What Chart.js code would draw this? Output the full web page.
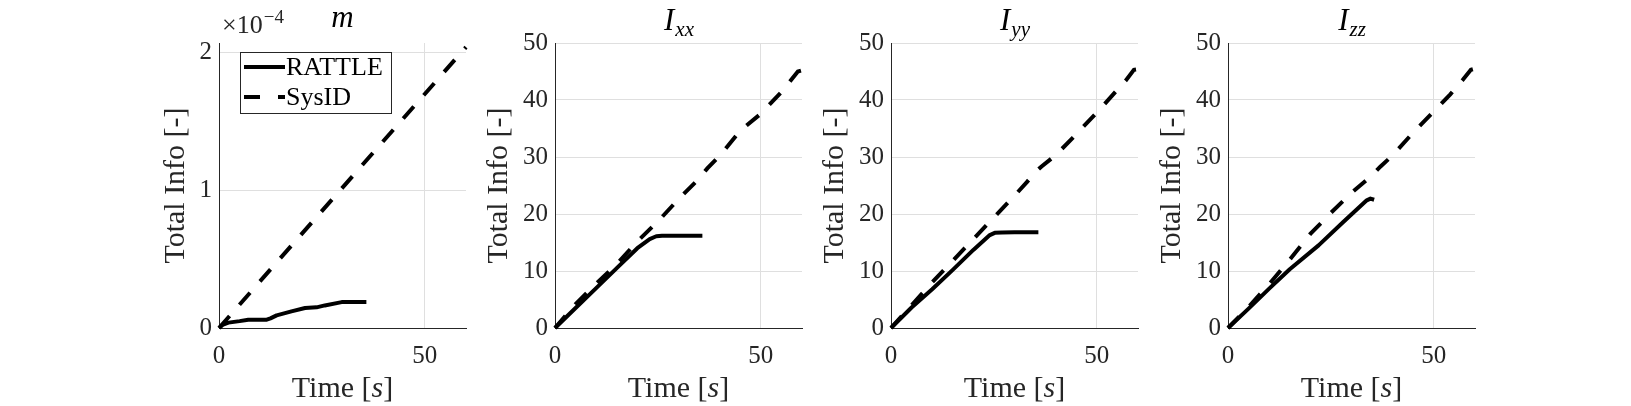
<!DOCTYPE html>
<html>
<head>
<meta charset="utf-8">
<script src="https://cdn.jsdelivr.net/npm/chart.js@4.4.1/dist/chart.umd.min.js"></script>
<style>
  html, body { margin: 0; padding: 0; background: #fff; }
  #wrap { position: relative; width: 1631px; height: 406px; overflow: hidden; }
  canvas { position: absolute; top: 0; }
</style>
</head>
<body>
<div id="wrap">
  <canvas id="c0" width="355" height="406"></canvas>
  <canvas id="c1" width="355" height="406"></canvas>
  <canvas id="c2" width="355" height="406"></canvas>
  <canvas id="c3" width="355" height="406"></canvas>
</div>
<script>
// ---- data ----
// mass m (values in units of 1e-4)
const rattleTimeM = [0, 1, 2.3, 5, 7.1, 11.6, 12.5, 14, 17.6, 20.9, 23.7, 25.7, 29.8, 35.8];
const rattleM     = [0, 0.025, 0.039, 0.05, 0.06, 0.06, 0.07, 0.092, 0.121, 0.145, 0.15, 0.164, 0.188, 0.188];
const sysidTimeM  = [0, 30, 60];
const sysidM      = [0, 1.02, 2.04];

// Ixx
const rattleTimeIxx = [0, 5, 10, 15, 20, 23, 24.6, 26, 30, 35.8];
const rattleIxx     = [0, 3.5, 7, 10.5, 14, 15.6, 16.1, 16.2, 16.2, 16.2];
const sysidTimeIxx  = [0, 5, 10, 15, 20, 25, 30, 35, 37, 40, 45, 50, 55, 59, 60];
const sysidIxx      = [0, 4.2, 7.8, 11.2, 15.2, 18.7, 22.6, 26.2, 28, 30.2, 34.6, 37.6, 41.4, 45, 45.2];

// Iyy
const rattleTimeIyy = [0, 5, 10, 15, 20, 24, 25.2, 27, 30, 35.8];
const rattleIyy     = [0, 3.6, 6.8, 10.2, 13.7, 16.3, 16.7, 16.75, 16.8, 16.8];
const sysidTimeIyy  = [0, 5, 10, 15, 20, 25, 30, 33, 35, 36.5, 40, 45, 50, 53, 57, 59, 60];
const sysidIyy      = [0, 4, 8, 11.8, 15.6, 19.4, 23.2, 25.6, 27.3, 28.3, 30.3, 34, 37.8, 40.2, 43.4, 45.3, 45.4];

// Izz
const rattleTimeIzz = [0, 5, 10, 15, 22, 28, 33.7, 34.6, 35.5];
const rattleIzz     = [0, 3.4, 6.9, 10.3, 14.5, 18.6, 22.4, 22.7, 22.5];
const sysidTimeIzz  = [0, 5, 10, 15, 20, 25, 30, 35, 37, 40, 45, 50, 54, 57, 59, 60];
const sysidIzz      = [0, 3.7, 7.7, 12, 16.5, 20.2, 23.7, 26.8, 28.3, 30.3, 34.3, 38, 41, 43.5, 45.3, 45.5];

const seriesLabels = ['RATTLE', 'SysID'];
const panelTitles = [['m', ''], ['I', 'xx'], ['I', 'yy'], ['I', 'zz']];
const xTicksStep = 50;

// pick a serif font that is really installed
function pickSerif() {
    const c = document.createElement('canvas').getContext('2d');
    const probe = 'Total Info mmmWWWiii 0123';
    c.font = '30px monospace';
    const ref = c.measureText(probe).width;
    const cands = ['Liberation Serif', 'DejaVu Serif', 'Noto Serif', 'Times New Roman', 'FreeSerif'];
    for (const f of cands) {
        c.font = '30px "' + f + '", monospace';
        if (Math.abs(c.measureText(probe).width - ref) > 0.5) return '"' + f + '", serif';
    }
    return 'serif';
}

// ---- layout ----
const FONT = pickSerif();
const INK = '#262626';
const GRID = '#dfdfdf';
const panelLeft = [219, 555, 891, 1228];
const Y_W = 100, X_H = 78;
const LW = 4;

function pts(t, v) {
    return t.map((x, i) => ({ x: x, y: v[i] }));
}

const panels = [
    { yMax: 2.07, yStep: 1, yTitlePad: 39, rattle: pts(rattleTimeM, rattleM), sysid: pts(sysidTimeM, sysidM), base: 27, first: true },
    { yMax: 50, yStep: 10, yTitlePad: 26, rattle: pts(rattleTimeIxx, rattleIxx), sysid: pts(sysidTimeIxx, sysidIxx), base: 30 },
    { yMax: 50, yStep: 10, yTitlePad: 26, rattle: pts(rattleTimeIyy, rattleIyy), sysid: pts(sysidTimeIyy, sysidIyy), base: 30 },
    { yMax: 50, yStep: 10, yTitlePad: 26, rattle: pts(rattleTimeIzz, rattleIzz), sysid: pts(sysidTimeIzz, sysidIzz), base: 30 }
];

// titles, x label with italic s, exponent and legend
function decorPlugin(p, idx) {
    return {
        id: 'decor' + idx,
        afterDraw(chart) {
            const ctx = chart.ctx;
            const a = chart.chartArea;
            const cx = (a.left + a.right) / 2;
            ctx.save();
            ctx.textBaseline = 'alphabetic';
            ctx.textAlign = 'left';

            // panel title
            const [main, sub] = panelTitles[idx];
            ctx.font = 'italic 31px ' + FONT;
            const wMain = ctx.measureText(main).width;
            ctx.font = 'italic 21px ' + FONT;
            const wSub = sub ? ctx.measureText(sub).width : 0;
            let tx = cx - (wMain + wSub) / 2;
            ctx.fillStyle = '#000';
            ctx.font = 'italic 31px ' + FONT;
            ctx.fillText(main, tx, p.base);
            if (sub) {
                ctx.font = 'italic 21px ' + FONT;
                ctx.fillText(sub, tx + wMain + 1, p.base + 6);
            }

            // x axis label: Time [s]
            ctx.fillStyle = INK;
            const parts = [['Time [', ''], ['s', 'italic '], [']', '']];
            let total = 0;
            parts.forEach(pr => { ctx.font = pr[1] + '30px ' + FONT; total += ctx.measureText(pr[0]).width; });
            let lx = cx - total / 2;
            parts.forEach(pr => {
                ctx.font = pr[1] + '30px ' + FONT;
                ctx.fillText(pr[0], lx, 397);
                lx += ctx.measureText(pr[0]).width;
            });

            if (p.first) {
                // exponent label
                ctx.font = '26px ' + FONT;
                ctx.fillText('\u00d710', a.left + 3, 33);
                const we = ctx.measureText('\u00d710').width;
                ctx.font = '19px ' + FONT;
                ctx.fillText('\u22124', a.left + 3 + we + 1, 23);

                // legend box
                const bx = a.left + 21, by = 52, bw = 151, bh = 61;
                ctx.fillStyle = '#fff';
                ctx.fillRect(bx, by, bw, bh);
                ctx.strokeStyle = '#262626';
                ctx.lineWidth = 1;
                ctx.strokeRect(bx + 0.5, by + 0.5, bw, bh);
                const rows = [[67, []], [97, [16, 18]]];
                rows.forEach((r, i) => {
                    ctx.beginPath();
                    ctx.setLineDash(r[1]);
                    ctx.strokeStyle = '#000';
                    ctx.lineWidth = LW;
                    ctx.moveTo(bx + 4, r[0]);
                    ctx.lineTo(bx + 45, r[0]);
                    ctx.stroke();
                    ctx.setLineDash([]);
                    ctx.fillStyle = '#000';
                    ctx.font = '26px ' + FONT;
                    ctx.fillText(seriesLabels[i], bx + 46, r[0] + 8);
                });
            }
            ctx.restore();
        }
    };
}

panels.forEach((p, i) => {
    const canvas = document.getElementById('c' + i);
    canvas.style.left = (panelLeft[i] - Y_W) + 'px';
    new Chart(canvas, {
        type: 'line',
        data: {
            datasets: [
                {
                    label: seriesLabels[0],
                    data: p.rattle,
                    borderColor: '#000',
                    borderWidth: LW,
                    pointRadius: 0,
                    tension: 0,
                    fill: false,
                    clip: false,
                    borderJoinStyle: 'round'
                },
                {
                    label: seriesLabels[1],
                    data: p.sysid,
                    borderColor: '#000',
                    borderWidth: LW,
                    borderDash: [16, 15],
                    pointRadius: 0,
                    tension: 0,
                    fill: false,
                    clip: false
                }
            ]
        },
        options: {
            responsive: false,
            animation: false,
            layout: { padding: { left: 0, top: 43, right: 8, bottom: 0 } },
            plugins: {
                legend: { display: false },
                tooltip: { enabled: false },
                title: { display: false }
            },
            scales: {
                x: {
                    type: 'linear',
                    min: 0,
                    max: 60,
                    afterFit: function (s) { s.height = X_H; },
                    ticks: {
                        stepSize: xTicksStep,
                        includeBounds: false,
                        padding: 13,
                        maxRotation: 0,
                        color: INK,
                        font: { family: FONT, size: 25 }
                    },
                    grid: { color: GRID, lineWidth: 1, drawTicks: false },
                    border: { display: true, color: INK, width: 1 }
                },
                y: {
                    type: 'linear',
                    min: 0,
                    max: p.yMax,
                    afterFit: function (s) { s.width = Y_W; },
                    ticks: {
                        stepSize: p.yStep,
                        includeBounds: false,
                        padding: 7,
                        color: INK,
                        font: { family: FONT, size: 25 }
                    },
                    grid: { color: GRID, lineWidth: 1, drawTicks: false },
                    border: { display: true, color: INK, width: 1 },
                    title: {
                        display: true,
                        text: 'Total Info [-]',
                        color: INK,
                        font: { family: FONT, size: 30 },
                        padding: { top: p.yTitlePad, bottom: 0 }
                    }
                }
            }
        },
        plugins: [decorPlugin(p, i)]
    });
});
</script>
</body>
</html>
